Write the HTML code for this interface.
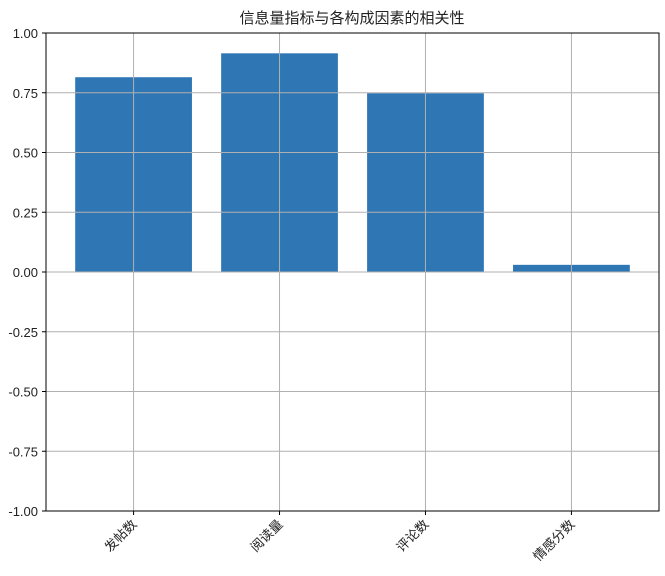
<!DOCTYPE html>
<html><head><meta charset="utf-8"><style>
body{margin:0;background:#fff;}
svg text{font-family:"Liberation Sans","Noto Sans CJK SC",sans-serif;fill:#222;}
</style></head><body>
<svg id="chart" width="665" height="571" xmlns="http://www.w3.org/2000/svg">
<text x="352" y="23" font-size="15" text-anchor="middle">信息量指标与各构成因素的相关性</text>
<g id="grid"></g><g id="bars"></g><g id="axes"></g>
</svg>
<script>
const categories=["发帖数","阅读量","评论数","情感分数"];
const values=[0.815,0.915,0.748,0.03];
const yTicks=[1,0.75,0.5,0.25,0,-0.25,-0.5,-0.75,-1];
const yTickLabels=["1.00","0.75","0.50","0.25","0.00","-0.25","-0.50","-0.75","-1.00"];
const L=46,R=659,T=33,B=511;
const xs=i=>L+(i+0.6)*(R-L)/4.2;
const bw=0.8*(R-L)/4.2;
const ys=v=>T+(1-v)/2*(B-T);
const NS="http://www.w3.org/2000/svg";
function mk(t,a,p){const e=document.createElementNS(NS,t);for(const k in a)e.setAttribute(k,a[k]);p.appendChild(e);return e;}
const bars=document.getElementById('bars'),grid=document.getElementById('grid'),axes=document.getElementById('axes');
values.forEach((v,i)=>{
 const r=mk('rect',{x:xs(i)-bw/2,y:Math.min(ys(v),ys(0)),width:bw,height:Math.abs(ys(v)-ys(0)),fill:'#2f77b4'},bars);
 
 
});
yTicks.forEach((t,i)=>{
 const g=mk('line',{x1:L,x2:R,y1:ys(t),y2:ys(t),stroke:'#b0b0b0','stroke-width':1},axes);
 
 
 mk('line',{x1:L-4,x2:L,y1:ys(t),y2:ys(t),stroke:'#000'},axes);
 const tx=mk('text',{x:L-8,y:ys(t)+5,'font-size':13,'text-anchor':'end'},axes);
 tx.textContent=yTickLabels[i];
 
 
});
categories.forEach((c,i)=>{
 const x=xs(i);
 const g=mk('line',{x1:x,x2:x,y1:T,y2:B,stroke:'#b0b0b0','stroke-width':1},axes);
 
 
 mk('line',{x1:x,x2:x,y1:B,y2:B+4,stroke:'#000'},axes);
 const tx=mk('text',{x:x+4,y:B+14,'font-size':13,'text-anchor':'end',transform:`rotate(-45 ${x+4} ${B+14})`},axes);
 tx.textContent=c;
 
 
});
const f=mk('rect',{x:L,y:T,width:R-L,height:B-T,fill:'none',stroke:'#000','stroke-width':1},axes);


</script>
</body></html>
